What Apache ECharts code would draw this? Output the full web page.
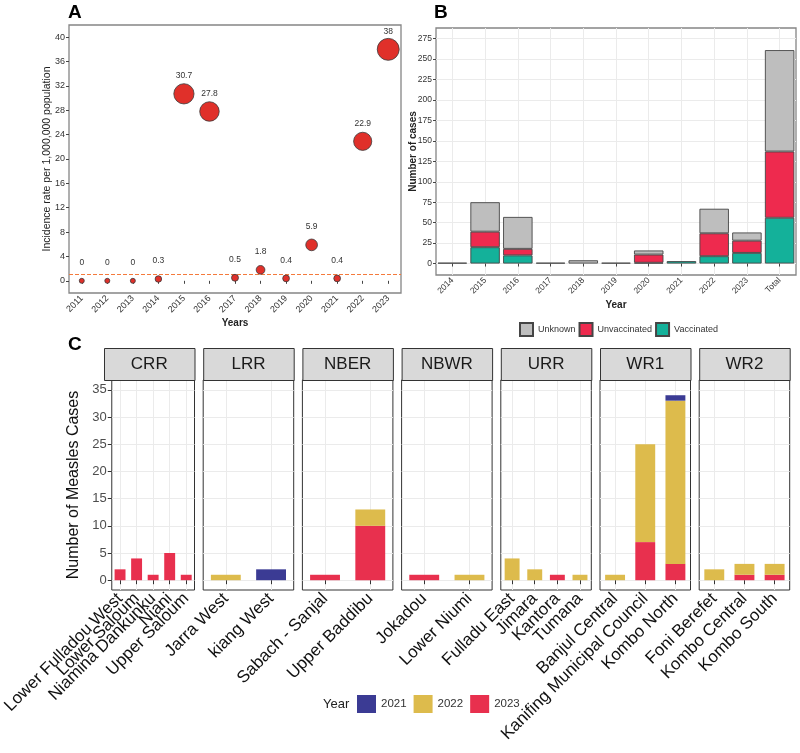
<!DOCTYPE html>
<html><head><meta charset="utf-8">
<script src="https://cdn.jsdelivr.net/npm/echarts@6/dist/echarts.min.js"></script>
<style>html,body{margin:0;padding:0;background:#fff}#c{width:800px;height:753px}</style>
</head><body><div id="c"></div>
<script>
const FONT = '"Liberation Sans", Arial, sans-serif';

// ---- Panel A data ----
const yearsA = ['2011','2012','2013','2014','2015','2016','2017','2018','2019','2020','2021','2022','2023'];
const incidenceRate = [0, 0, 0, 0.3, 30.7, 27.8, 0.5, 1.8, 0.4, 5.9, 0.4, 22.9, 38];
const incidenceTicks = [0, 4, 8, 12, 16, 20, 24, 28, 32, 36, 40];
const referenceRate = 1;

// ---- Panel B data ----
const yearsB = ['2014','2015','2016','2017','2018','2019','2020','2021','2022','2023','Total'];
const vaccinated   = [0, 20, 10, 0, 0, 0, 1, 3, 9, 13, 56];
const unvaccinated = [0, 19, 8, 1, 0, 1, 10, 0, 28, 15, 81];
const unknownStatus = [1, 36, 39, 0, 4, 0, 5, 0, 30, 10, 124];
const casesTicks = [0, 25, 50, 75, 100, 125, 150, 175, 200, 225, 250, 275];

// ---- Panel C data ----
const regions = ['CRR','LRR','NBER','NBWR','URR','WR1','WR2'];
const districtsByRegion = [
  ['Lower Fulladou West','Lower Saloum','Niamina Dankunku','Niani','Upper Saloum'],
  ['Jarra West','kiang West'],
  ['Sabach - Sanjal','Upper Baddibu'],
  ['Jokadou','Lower Niumi'],
  ['Fulladu East','Jimara','Kantora','Tumana'],
  ['Banjul Central','Kanifing Municipal Council','Kombo North'],
  ['Foni Berefet','Kombo Central','Kombo South']
];
const cases2021 = [[0,0,0,0,0],[0,2],[0,0],[0,0],[0,0,0,0],[0,0,1],[0,0,0]];
const cases2022 = [[0,0,0,0,0],[1,0],[0,3],[0,1],[4,2,0,1],[1,18,30],[2,2,2]];
const cases2023 = [[2,4,1,5,1],[0,0],[1,10],[1,0],[0,0,1,0],[0,7,3],[0,1,1]];
const measlesTicks = [0, 5, 10, 15, 20, 25, 30, 35];
const yearKeys = ['2021','2022','2023'];

const nz = v => (v === 0 ? null : v);

const grids = [], xAxes = [], yAxes = [], series = [], graphics = [];

// ===== Panel A =====
grids.push({left: 69, top: 25, width: 332, height: 268, show: true, borderColor: '#858585', borderWidth: 1.3, backgroundColor: 'transparent'});
xAxes.push({
  gridIndex: 0, type: 'category', data: yearsA,
  name: 'Years', nameLocation: 'middle', nameGap: 25,
  nameTextStyle: {fontFamily: FONT, fontSize: 10, fontWeight: 'bold', color: '#222'},
  axisLine: {show: false},
  axisTick: {show: true, alignWithLabel: true, length: 3, lineStyle: {color: '#444'}},
  axisLabel: {rotate: 45, interval: 0, fontSize: 9, color: '#333', fontFamily: FONT, margin: 4},
  splitLine: {show: false}
});
yAxes.push({
  gridIndex: 0, type: 'value', min: -2, max: 42,
  name: 'Incidence rate per 1,000,000 population', nameLocation: 'middle', nameGap: 16, nameMoveOverlap: false,
  nameTextStyle: {fontFamily: FONT, fontSize: 10.5, color: '#222'},
  axisLine: {show: false},
  axisTick: {show: true, length: 3, customValues: incidenceTicks, lineStyle: {color: '#444'}},
  axisLabel: {customValues: incidenceTicks, fontSize: 9, color: '#333', fontFamily: FONT, margin: 4},
  splitLine: {show: false}
});
series.push({
  type: 'scatter', xAxisIndex: 0, yAxisIndex: 0, data: incidenceRate,
  symbolSize: function (val) { const v = Array.isArray(val) ? val[1] : val; return 5 + 2.75 * Math.sqrt(v); },
  itemStyle: {color: '#E0302A', borderColor: '#3a3a3a', borderWidth: 0.8, opacity: 1},
  label: {show: true, position: 'inside', offset: [0, -18], fontSize: 8.5, color: '#333', fontFamily: FONT,
          formatter: p => String(Array.isArray(p.value) ? p.value[1] : p.value)},
  markLine: {silent: true, symbol: ['none','none'], label: {show: false}, z: 1,
             lineStyle: {type: 'dashed', color: '#F47A3C', width: 1},
             data: [{yAxis: referenceRate}]},
  z: 3
});

// ===== Panel B =====
grids.push({left: 436, top: 28, width: 360, height: 247, show: true, borderColor: '#858585', borderWidth: 1.3, backgroundColor: 'transparent'});
xAxes.push({
  gridIndex: 1, type: 'category', data: yearsB,
  name: 'Year', nameLocation: 'middle', nameGap: 25,
  nameTextStyle: {fontFamily: FONT, fontSize: 10, fontWeight: 'bold', color: '#222'},
  axisLine: {show: false},
  axisTick: {show: true, alignWithLabel: true, length: 3, lineStyle: {color: '#444'}},
  axisLabel: {rotate: 45, interval: 0, fontSize: 8.5, color: '#333', fontFamily: FONT, margin: 4},
  splitLine: {show: false}
});
yAxes.push({
  gridIndex: 1, type: 'value', min: -14, max: 288,
  name: 'Number of cases', nameLocation: 'middle', nameGap: 18, nameMoveOverlap: false,
  nameTextStyle: {fontFamily: FONT, fontSize: 10, fontWeight: 'bold', color: '#222'},
  axisLine: {show: false},
  axisTick: {show: true, length: 3, customValues: casesTicks, lineStyle: {color: '#444'}},
  axisLabel: {customValues: casesTicks, fontSize: 8.5, color: '#333', fontFamily: FONT, margin: 4},
  splitLine: {show: true, lineStyle: {color: '#EBEBEB', width: 1}}
});
series.push({
  type: 'line', xAxisIndex: 1, yAxisIndex: 1, data: [], silent: true, z: 0,
  markLine: {silent: true, symbol: ['none','none'], label: {show: false}, animation: false, z: 0,
             lineStyle: {type: 'solid', color: '#EBEBEB', width: 1},
             data: yearsB.map(y => ({xAxis: y}))}
});
const statusDefs = [
  {name: 'Vaccinated', data: vaccinated, color: '#14B19A'},
  {name: 'Unvaccinated', data: unvaccinated, color: '#EE2A4E'},
  {name: 'Unknown', data: unknownStatus, color: '#BEBEBE'}
];
statusDefs.forEach(s => series.push({
  type: 'bar', name: s.name, xAxisIndex: 1, yAxisIndex: 1, stack: 'status', barWidth: '90%',
  data: s.data.map(nz),
  itemStyle: {color: s.color, borderColor: '#454545', borderWidth: 0.9},
  z: 6
}));

// ===== Panel C =====
const facetLeft = 104, facetStep = 99.2, facetWidth = 90.5, facetTop = 380, facetHeight = 210, stripHeight = 32;
const yearColors = {'2021': '#3B3B94', '2022': '#DDBB4C', '2023': '#E8304E'};
const yearData = {'2021': cases2021, '2022': cases2022, '2023': cases2023};
regions.forEach((reg, i) => {
  const gi = 2 + i;
  const left = facetLeft + i * facetStep;
  grids.push({left: left, top: facetTop, width: facetWidth, height: facetHeight, show: true, borderColor: '#333', borderWidth: 1, backgroundColor: 'transparent'});
  xAxes.push({
    gridIndex: gi, type: 'category', data: districtsByRegion[i],
    axisLine: {show: false},
    axisTick: {show: true, alignWithLabel: true, length: 4, lineStyle: {color: '#333'}},
    axisLabel: {rotate: 45, interval: 0, fontSize: 17, color: '#111', fontFamily: FONT, margin: 6, hideOverlap: false},
    splitLine: {show: false}
  });
  yAxes.push({
    gridIndex: gi, type: 'value', min: -1.8, max: 36.8,
    name: i === 0 ? 'Number of Measles Cases' : '', nameLocation: 'middle', nameGap: 30,
    nameTextStyle: {fontFamily: FONT, fontSize: 16, color: '#111'},
    axisLine: {show: false},
    axisTick: {show: i === 0, length: 4, customValues: measlesTicks, lineStyle: {color: '#333'}},
    axisLabel: {show: i === 0, customValues: measlesTicks, fontSize: 13, color: '#4D4D4D', fontFamily: FONT, margin: 5},
    splitLine: {show: true, lineStyle: {color: '#EBEBEB', width: 1}}
  });
  series.push({
    type: 'line', xAxisIndex: gi, yAxisIndex: gi, data: [], silent: true, z: 0,
    markLine: {silent: true, symbol: ['none','none'], label: {show: false}, animation: false, z: 0,
               lineStyle: {type: 'solid', color: '#EBEBEB', width: 1},
               data: districtsByRegion[i].map(d => ({xAxis: d}))}
  });
  ['2023','2022','2021'].forEach(yr => series.push({
    type: 'bar', name: yr, xAxisIndex: gi, yAxisIndex: gi, stack: 'yr' + i, barWidth: '66%',
    data: yearData[yr][i].map(nz),
    itemStyle: {color: yearColors[yr]},
    z: 6
  }));
  graphics.push({type: 'rect', left: left, top: facetTop - stripHeight, shape: {width: facetWidth, height: stripHeight},
    style: {fill: '#D9D9D9', stroke: '#333', lineWidth: 1}, z: 10});
  graphics.push({type: 'text', x: left + facetWidth / 2, y: facetTop - stripHeight / 2,
    style: {text: reg, fill: '#1A1A1A', font: '17px ' + FONT, textAlign: 'center', textVerticalAlign: 'middle'}, z: 11});
});

// Panel letters and legend title
graphics.push({type: 'text', x: 68, y: 3, style: {text: 'A', fill: '#000', font: 'bold 19px ' + FONT}, z: 12});
graphics.push({type: 'text', x: 434, y: 3, style: {text: 'B', fill: '#000', font: 'bold 19px ' + FONT}, z: 12});
graphics.push({type: 'text', x: 68, y: 335, style: {text: 'C', fill: '#000', font: 'bold 19px ' + FONT}, z: 12});
graphics.push({type: 'text', x: 323, y: 704, style: {text: 'Year', fill: '#222', font: '13px ' + FONT, textVerticalAlign: 'middle'}, z: 12});

const option = {
  backgroundColor: '#fff',
  animation: false,
  textStyle: {fontFamily: FONT},
  grid: grids, xAxis: xAxes, yAxis: yAxes, series: series,
  legend: [
    {data: ['Unknown','Unvaccinated','Vaccinated'], left: 519, top: 322, orient: 'horizontal', padding: 0,
     itemWidth: 13, itemHeight: 13, itemGap: 3, icon: 'rect',
     textStyle: {fontSize: 9, color: '#333', fontFamily: FONT}, selectedMode: false},
    {data: yearKeys, left: 357, top: 695, orient: 'horizontal', padding: 0,
     itemWidth: 19, itemHeight: 18, itemGap: 7, icon: 'rect',
     textStyle: {fontSize: 11.5, color: '#333', fontFamily: FONT}, selectedMode: false}
  ],
  graphic: graphics
};
const chart = echarts.init(document.getElementById('c'));
chart.setOption(option);
</script>
</body></html>
